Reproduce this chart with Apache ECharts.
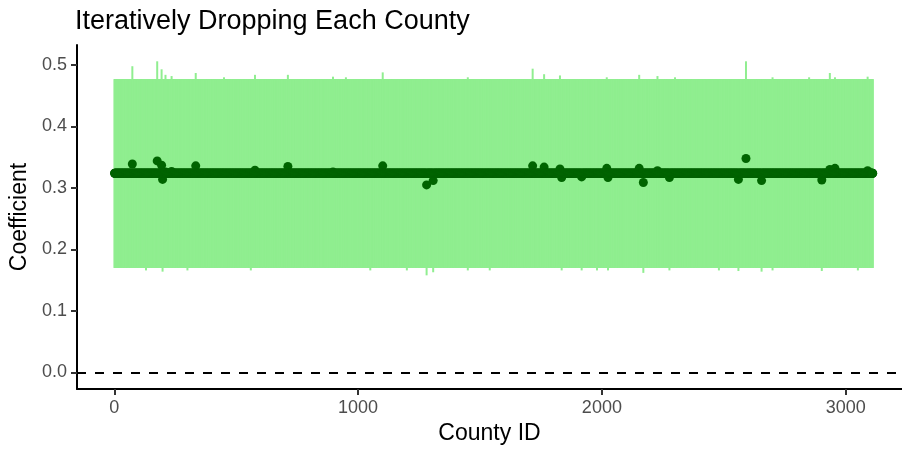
<!DOCTYPE html>
<html>
<head>
<meta charset="utf-8">
<script src="https://cdn.jsdelivr.net/npm/echarts@6/dist/echarts.min.js"></script>
<style>
  html, body { margin: 0; padding: 0; background: #fff; }
  #chart { width: 902px; height: 449px; }
</style>
</head>
<body>
<div id="chart"></div>
<script>
// most counties sit on the same estimate and interval
var countyCount = 3111;
var baseCoef = 0.324;
var baseLower = 0.170;
var baseUpper = 0.477;

// counties whose estimate / interval visibly differ from the rest
var outlierIds   = [74, 130, 176, 194, 198, 210, 235, 300, 334, 450, 560, 577, 712, 897, 950, 1050, 1101, 1200, 1281, 1308, 1450, 1540, 1716, 1763, 1828, 1835, 1917, 1980, 2020, 2025, 2153, 2170, 2228, 2277, 2300, 2480, 2560, 2591, 2655, 2700, 2850, 2902, 2935, 2956, 3050, 3090];
var outlierCoef  = [0.339, 0.324, 0.344, 0.337, 0.314, 0.326, 0.327, 0.324, 0.336, 0.324, 0.324, 0.329, 0.335, 0.326, 0.324, 0.324, 0.336, 0.324, 0.305, 0.312, 0.324, 0.324, 0.336, 0.334, 0.331, 0.317, 0.318, 0.324, 0.332, 0.317, 0.332, 0.309, 0.328, 0.317, 0.324, 0.324, 0.314, 0.348, 0.312, 0.324, 0.324, 0.313, 0.330, 0.332, 0.324, 0.328];
var outlierLower = [0.184, 0.166, 0.185, 0.182, 0.164, 0.172, 0.172, 0.166, 0.181, 0.170, 0.166, 0.174, 0.180, 0.171, 0.170, 0.166, 0.181, 0.166, 0.158, 0.163, 0.166, 0.166, 0.178, 0.179, 0.176, 0.166, 0.166, 0.166, 0.177, 0.166, 0.177, 0.162, 0.173, 0.166, 0.170, 0.166, 0.165, 0.191, 0.164, 0.166, 0.170, 0.165, 0.175, 0.177, 0.166, 0.173];
var outlierUpper = [0.498, 0.477, 0.506, 0.493, 0.468, 0.484, 0.482, 0.477, 0.487, 0.480, 0.477, 0.484, 0.484, 0.481, 0.480, 0.477, 0.488, 0.477, 0.452, 0.461, 0.480, 0.477, 0.494, 0.485, 0.483, 0.470, 0.472, 0.477, 0.480, 0.470, 0.484, 0.458, 0.482, 0.470, 0.480, 0.477, 0.466, 0.506, 0.464, 0.480, 0.480, 0.465, 0.487, 0.480, 0.477, 0.481];

var xTicks = [0, 1000, 2000, 3000];
var yTicks = [0, 0.1, 0.2, 0.3, 0.4, 0.5];

var font = "'Liberation Sans', Arial, Helvetica, sans-serif";

var coefs = [], bars = [];
var lookup = {};
for (var k = 0; k < outlierIds.length; k++) lookup[outlierIds[k]] = k;
for (var i = 1; i <= countyCount; i++) {
  var c = baseCoef, lo = baseLower, hi = baseUpper;
  if (lookup[i] !== undefined) {
    var j = lookup[i];
    c = outlierCoef[j]; lo = outlierLower[j]; hi = outlierUpper[j];
  }
  coefs.push([i, c]);
  bars.push([i, lo, hi]);
}

var myChart = echarts.init(document.getElementById('chart'));
var option = {
  animation: false,
  backgroundColor: '#fff',
  title: {
    text: 'Iteratively Dropping Each County',
    left: 75,
    top: 8,
    padding: 0,
    textStyle: { fontFamily: font, fontSize: 27, fontWeight: 'normal', color: '#000' }
  },
  grid: { left: 77, right: 0, top: 45, bottom: 60, containLabel: false, outerBoundsMode: 'none' },
  xAxis: {
    type: 'value',
    min: -153,
    max: 3231,
    name: 'County ID',
    nameLocation: 'middle',
    nameGap: 33,
    nameTextStyle: { fontFamily: font, fontSize: 23, color: '#000' },
    splitLine: { show: false },
    axisLine: { onZero: false, lineStyle: { color: '#000', width: 2 } },
    axisTick: { customValues: xTicks, length: 6, lineStyle: { color: '#333', width: 2 } },
    axisLabel: {
      customValues: xTicks, margin: 10, fontFamily: font, fontSize: 18, color: '#4D4D4D',
      formatter: function (v) { return String(v); }
    }
  },
  yAxis: {
    type: 'value',
    min: -0.0268,
    max: 0.5325,
    name: 'Coefficient',
    nameLocation: 'middle',
    nameGap: 42,
    nameTextStyle: { fontFamily: font, fontSize: 23, color: '#000' },
    splitLine: { show: false },
    axisLine: { show: true, onZero: false, lineStyle: { color: '#000', width: 2 } },
    axisTick: { customValues: yTicks, length: 6, lineStyle: { color: '#333', width: 2 } },
    axisLabel: {
      customValues: yTicks, margin: 10, fontFamily: font, fontSize: 18, color: '#4D4D4D',
      formatter: function (v) { return v.toFixed(1); }
    }
  },
  series: [
    {
      type: 'custom',
      progressive: 0,
      clip: true,
      encode: { x: 0, y: [1, 2] },
      data: bars,
      renderItem: function (params, api) {
        var p1 = api.coord([api.value(0), api.value(1)]);
        var p2 = api.coord([api.value(0), api.value(2)]);
        return {
          type: 'line',
          shape: { x1: p1[0], y1: p1[1], x2: p2[0], y2: p2[1] },
          style: { stroke: '#90EE90', lineWidth: 2 }
        };
      }
    },
    {
      type: 'scatter',
      progressive: 0,
      symbolSize: 9,
      itemStyle: { color: '#006400', opacity: 1 },
      data: coefs,
      markLine: {
        silent: true,
        symbol: ['none', 'none'],
        label: { show: false },
        lineStyle: { color: '#000', width: 2, type: [9, 9] },
        data: [{ yAxis: 0 }]
      }
    }
  ]
};
myChart.setOption(option);
window.addEventListener('resize', function () {
  myChart.resize();
});
</script>
</body>
</html>
